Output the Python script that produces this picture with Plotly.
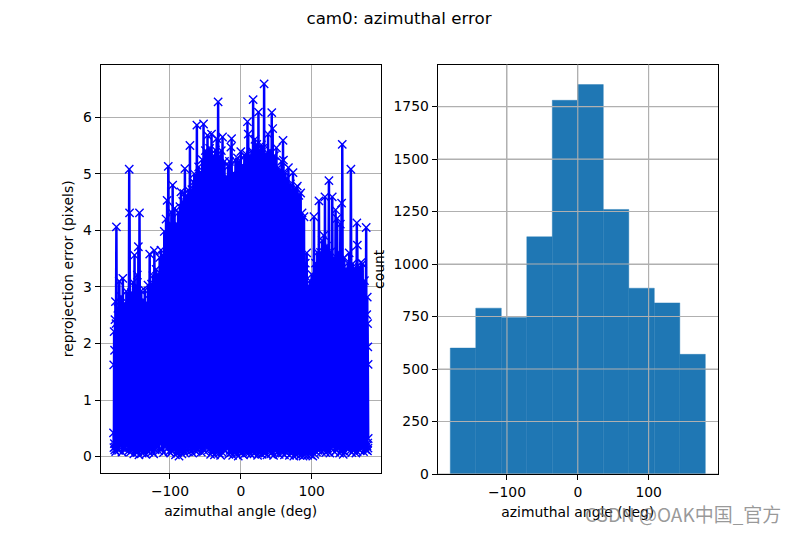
import plotly.graph_objects as go
from plotly.subplots import make_subplots

TITLE = "cam0: azimuthal error"
X_LABEL = "azimuthal angle (deg)"
Y_LABEL_LEFT = "reprojection error (pixels)"
Y_LABEL_RIGHT = "count"
WATERMARK = "CSDN @OAK中国_官方"

# Left panel: error against azimuth (high and low in turn)
azimuth = [
    -179.7, -179.4, -179.1, -178.8, -178.5, -178.2, -177.9, -177.6, -177.3, -177.0, -176.6, -176.2,
    -175.6, -174.6, -173.5, -172.5, -171.5, -170.2, -169.0, -167.8, -166.5, -165.2, -164.0, -162.8,
    -161.5, -160.5, -159.5, -158.5, -157.5, -157.2, -157.0, -155.8, -154.5, -153.2, -152.0, -151.0,
    -150.0, -148.8, -147.5, -146.8, -146.0, -145.3, -144.6, -143.8, -143.0, -141.8, -140.5, -139.2,
    -138.0, -136.8, -135.5, -134.2, -133.0, -132.0, -131.0, -129.8, -128.6, -127.3, -126.0, -125.0,
    -124.0, -123.0, -122.0, -120.8, -119.5, -118.2, -117.0, -115.8, -114.5, -113.6, -112.7, -111.6,
    -110.5, -109.2, -108.0, -106.8, -105.5, -104.8, -104.0, -103.2, -102.4, -101.2, -100.0, -99.0,
    -98.0, -97.1, -96.2, -94.8, -93.5, -92.2, -91.0, -89.8, -88.5, -87.2, -86.0, -85.2,
    -84.5, -83.2, -82.0, -81.0, -80.0, -79.4, -78.9, -77.7, -76.5, -75.2, -74.0, -72.9,
    -71.8, -70.4, -69.0, -68.0, -67.0, -66.3, -65.7, -64.8, -64.0, -63.0, -62.0, -60.8,
    -59.5, -58.2, -57.0, -55.8, -54.5, -53.5, -52.6, -51.3, -50.0, -48.5, -47.0, -45.5,
    -44.0, -42.6, -41.3, -39.9, -38.5, -37.2, -36.0, -35.0, -34.0, -33.0, -32.0, -30.8,
    -29.5, -28.5, -27.5, -26.6, -25.8, -24.4, -23.0, -21.8, -20.5, -19.2, -18.0, -17.0,
    -16.0, -15.0, -14.0, -13.5, -13.0, -11.5, -10.0, -8.8, -7.5, -6.1, -4.7, -3.6,
    -2.5, -1.2, 0.0, 1.2, 2.5, 3.8, 5.0, 6.0, 7.0, 8.2, 9.4, 10.0,
    10.5, 11.8, 13.0, 14.0, 15.0, 16.2, 17.4, 18.7, 20.0, 21.2, 22.5, 23.7,
    24.9, 26.0, 27.0, 28.0, 29.0, 30.0, 31.0, 32.0, 32.9, 34.2, 35.5, 37.0,
    38.5, 39.8, 41.0, 42.4, 43.7, 44.4, 45.0, 46.2, 47.5, 48.9, 50.3, 51.6,
    53.0, 54.2, 55.5, 56.5, 57.5, 58.6, 59.6, 59.9, 60.2, 61.6, 63.0, 64.0,
    65.0, 66.1, 67.2, 68.6, 70.0, 71.8, 73.7, 74.8, 76.0, 77.0, 78.0, 78.9,
    79.8, 80.9, 82.0, 83.2, 84.5, 85.5, 86.5, 87.8, 89.2, 90.1, 91.0, 92.0,
    93.0, 94.2, 95.5, 96.5, 97.5, 98.8, 100.0, 101.6, 103.3, 104.4, 105.5, 106.8,
    108.0, 109.2, 110.3, 111.4, 112.5, 113.8, 115.0, 116.0, 117.0, 117.9, 118.8, 119.9,
    121.0, 122.7, 124.4, 125.7, 127.0, 128.0, 129.1, 130.3, 131.5, 132.6, 133.8, 134.9,
    136.0, 137.2, 138.5, 139.5, 140.5, 141.4, 142.3, 142.8, 143.2, 144.6, 146.0, 147.2,
    148.5, 149.8, 151.0, 152.0, 153.0, 154.2, 155.4, 156.7, 158.0, 159.5, 161.0, 162.4,
    163.8, 164.2, 164.5, 165.8, 167.0, 168.2, 169.5, 170.8, 172.0, 173.2, 174.5, 175.8,
    177.0, 177.4, 177.8, 178.1, 178.5, 178.8, 179.0, 179.2, 179.3, 179.5, 179.7, 179.8,
]
error = [
    0.42, 1.62, 0.16, 2.21, 0.23, 1.88, 0.12, 2.42, 0.17, 2.74, 0.09, 2.35,
    4.06, 0.14, 2.62, 0.11, 3.10, 0.18, 2.83, 0.08, 3.15, 0.16, 2.71, 0.12,
    2.92, 0.19, 2.54, 0.10, 5.08, 0.16, 4.31, 0.08, 2.90, 0.13, 3.08, 0.05,
    3.56, 0.12, 3.02, 0.07, 3.21, 0.09, 3.71, 0.03, 4.31, 0.12, 2.93, 0.06,
    2.76, 0.08, 2.94, 0.04, 2.72, 0.11, 3.03, 0.08, 3.58, 0.14, 3.05, 0.09,
    3.20, 0.05, 3.64, 0.12, 3.31, 0.17, 3.22, 0.10, 3.52, 0.22, 3.65, 0.13,
    3.55, 0.07, 3.98, 0.18, 4.20, 0.27, 4.53, 0.15, 5.13, 0.09, 4.11, 0.06,
    4.32, 0.11, 4.80, 0.13, 4.39, 0.03, 4.12, 0.07, 4.31, 0.01, 4.42, 0.10,
    4.68, 0.05, 4.51, 0.12, 4.65, 0.07, 5.09, 0.14, 4.62, 0.09, 4.71, 0.16,
    5.50, 0.10, 4.72, 0.06, 4.85, 0.13, 5.00, 0.18, 4.82, 0.09, 5.86, 0.11,
    5.12, 0.15, 5.03, 0.08, 5.25, 0.14, 5.88, 0.10, 5.41, 0.17, 5.68, 0.12,
    5.45, 0.04, 5.70, 0.09, 5.32, 0.03, 5.42, 0.07, 5.62, 0.11, 6.27, 0.06,
    5.31, 0.02, 5.41, 0.08, 5.65, 0.13, 5.22, 0.10, 4.95, 0.16, 5.13, 0.04,
    5.22, 0.11, 5.47, 0.07, 5.62, 0.02, 5.01, 0.09, 5.23, 0.05, 5.28, 0.01,
    5.21, 0.08, 5.39, 0.06, 5.15, 0.03, 5.32, 0.10, 5.35, 0.06, 5.92, 0.12,
    5.70, 0.07, 5.32, 0.04, 5.41, 0.10, 6.31, 0.05, 5.61, 0.09, 5.52, 0.02,
    6.09, 0.07, 5.42, 0.11, 5.51, 0.04, 5.45, 0.08, 6.59, 0.06, 5.35, 0.03,
    5.70, 0.10, 5.41, 0.05, 6.08, 0.08, 5.80, 0.02, 5.32, 0.10, 5.46, 0.07,
    5.11, 0.04, 5.05, 0.09, 5.22, 0.06, 5.59, 0.11, 5.24, 0.03, 5.02, 0.07,
    4.92, 0.10, 5.11, 0.02, 4.82, 0.06, 5.02, 0.01, 4.72, 0.05, 4.75, 0.03,
    4.78, 0.07, 4.62, 0.02, 4.66, 0.04, 4.31, 0.01, 4.24, 0.03, 3.42, 0.06,
    3.60, 0.02, 3.02, 0.05, 3.11, 0.03, 3.22, 0.01, 4.24, 0.04, 3.42, 0.08,
    3.61, 0.11, 4.52, 0.13, 3.61, 0.09, 3.82, 0.17, 3.91, 0.12, 4.59, 0.07,
    3.72, 0.10, 4.88, 0.06, 3.62, 0.14, 4.59, 0.19, 3.51, 0.08, 4.36, 0.11,
    4.21, 0.16, 3.61, 0.06, 4.11, 0.09, 4.48, 0.12, 5.52, 0.04, 3.52, 0.08,
    3.32, 0.14, 3.42, 0.17, 3.60, 0.10, 5.08, 0.07, 3.41, 0.12, 3.33, 0.06,
    4.13, 0.09, 3.74, 0.14, 3.34, 0.11, 3.43, 0.16, 3.41, 0.09, 3.11, 0.13,
    4.05, 0.12, 2.51, 0.19, 2.82, 0.10, 2.35, 0.24, 1.94, 0.15, 1.63, 0.32,
]

# Right panel: histogram counts per bin
bin_edges = [-180, -144, -108, -72, -36, 0, 36, 72, 108, 144, 180]
counts = [600, 790, 745, 1130, 1780, 1855, 1260, 885, 815, 570]

left_x_ticks = [-100, 0, 100]
left_y_ticks = [0, 1, 2, 3, 4, 5, 6]
right_x_ticks = [-100, 0, 100]
right_y_ticks = [0, 250, 500, 750, 1000, 1250, 1500, 1750]

BLUE = "#0000ff"
BAR = "#1f77b4"
GRID = "#b0b0b0"
W, H = 798, 533
M_L, M_R, M_T, M_B = 60, 60, 60, 30
PW, PH = W - M_L - M_R, H - M_T - M_B


def dom_x(a, b):
    return [(a - M_L) / PW, (b - M_L) / PW]


def dom_y(top, bottom):
    return [(H - M_B - bottom) / PH, (H - M_B - top) / PH]


bin_centers = [(a + b) / 2 for a, b in zip(bin_edges[:-1], bin_edges[1:])]
bin_widths = [b - a for a, b in zip(bin_edges[:-1], bin_edges[1:])]

fig = make_subplots(rows=1, cols=2)
fig.add_trace(go.Scatter(
    x=azimuth, y=error, mode="lines+markers",
    line=dict(color=BLUE, width=2.5),
    marker=dict(symbol="x-thin", size=8.3, line=dict(color=BLUE, width=1.39), color=BLUE),
    showlegend=False,
), row=1, col=1)
fig.add_trace(go.Bar(
    x=bin_centers, y=counts, width=bin_widths,
    marker=dict(color=BAR, line=dict(color=BAR, width=0.4)),
    showlegend=False,
), row=1, col=2)

font = dict(family="DejaVu Sans", size=13.9, color="#000000")
axis_common = dict(
    showgrid=True, gridcolor=GRID, gridwidth=1.1, zeroline=False,
    showline=True, linecolor="#000000", linewidth=1.1, mirror=True,
    ticks="outside", ticklen=4.9, tickwidth=1.1, tickcolor="#000000",
    tickfont=font,
)
fig.update_xaxes(**axis_common)
fig.update_yaxes(**axis_common)

fig.update_layout(
    width=W, height=H, autosize=False,
    margin=dict(l=M_L, r=M_R, t=M_T, b=M_B),
    paper_bgcolor="white", plot_bgcolor="white",
    font=font,
    title=dict(text=TITLE, x=0.5, xanchor="center", y=1 - 18 / H, yanchor="middle",
               font=dict(family="DejaVu Sans", size=16.67, color="#000000")),
    xaxis=dict(domain=dom_x(100.6, 381), range=[-197.9, 197.9],
               tickmode="array", tickvals=left_x_ticks,
               title=dict(text=X_LABEL, font=font, standoff=8)),
    yaxis=dict(domain=dom_y(64.6, 473), range=[-0.29, 6.93],
               tickmode="array", tickvals=left_y_ticks,
               title=dict(text=Y_LABEL_LEFT, font=font, standoff=6)),
    xaxis2=dict(domain=dom_x(437.6, 718), range=[-197.9, 197.9],
                tickmode="array", tickvals=right_x_ticks,
                title=dict(text=X_LABEL, font=font, standoff=8)),
    yaxis2=dict(domain=dom_y(64.6, 474), range=[0, 1950],
                tickmode="array", tickvals=right_y_ticks,
                title=dict(text=Y_LABEL_RIGHT, font=font, standoff=5)),
    annotations=[dict(
        text=WATERMARK, xref="paper", yref="paper",
        x=(783 - M_L) / PW, y=(H - M_B - 513) / PH,
        xanchor="right", yanchor="middle", showarrow=False,
        font=dict(family="Noto Sans CJK SC", size=19, color="rgba(120,120,120,0.75)"),
    )],
)

# In the right panel the grid is drawn over the bars
shapes = []
for v in right_x_ticks:
    shapes.append(dict(type="line", xref="x2", yref="y2 domain", x0=v, x1=v, y0=0, y1=1,
                       line=dict(color=GRID, width=1.1), layer="above"))
for v in right_y_ticks:
    shapes.append(dict(type="line", xref="x2 domain", yref="y2", x0=0, x1=1, y0=v, y1=v,
                       line=dict(color=GRID, width=1.1), layer="above"))
fig.update_layout(shapes=shapes)

fig.write_html("out.html", config=dict(displayModeBar=False),
               post_script="document.body.style.margin='0';")
